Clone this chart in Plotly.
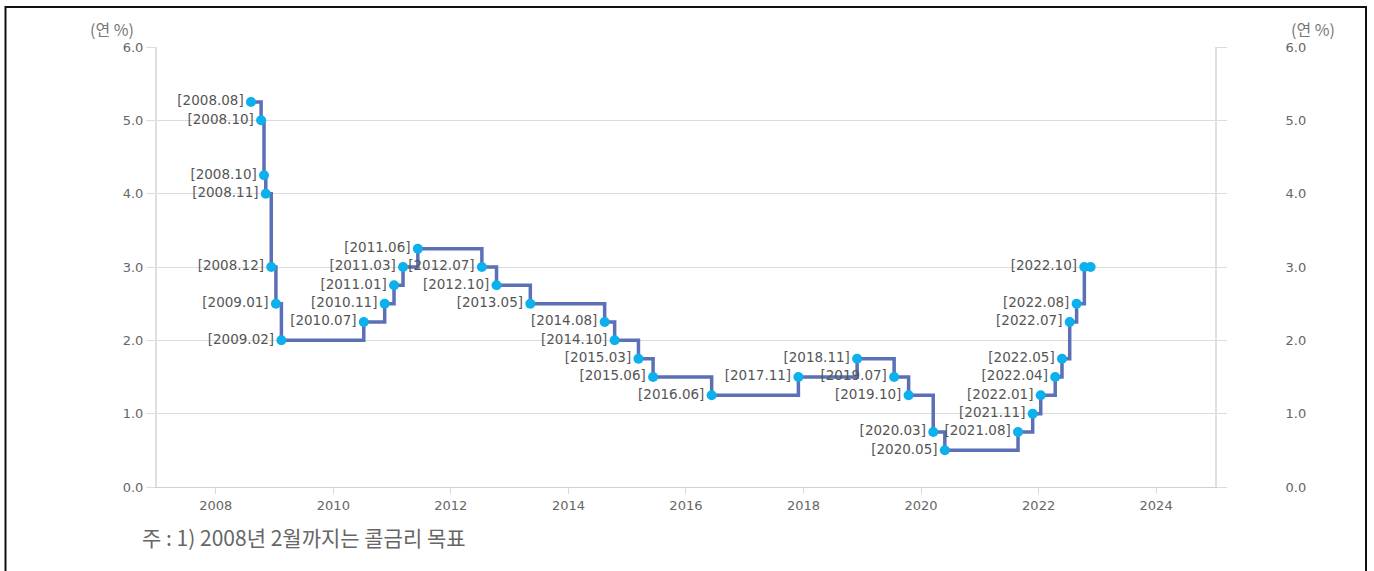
import plotly.graph_objects as go

dates = ["2008-08-07", "2008-10-09", "2008-10-27", "2008-11-07", "2008-12-11",
         "2009-01-09", "2009-02-12", "2010-07-09", "2010-11-16", "2011-01-13",
         "2011-03-10", "2011-06-10", "2012-07-12", "2012-10-11", "2013-05-09",
         "2014-08-14", "2014-10-15", "2015-03-12", "2015-06-11", "2016-06-09",
         "2017-11-30", "2018-11-30", "2019-07-18", "2019-10-16", "2020-03-17",
         "2020-05-28", "2021-08-26", "2021-11-25", "2022-01-14", "2022-04-14",
         "2022-05-26", "2022-07-13", "2022-08-25", "2022-10-12", "2022-11-20"]
rates = [5.25, 5.00, 4.25, 4.00, 3.00,
         2.50, 2.00, 2.25, 2.50, 2.75,
         3.00, 3.25, 3.00, 2.75, 2.50,
         2.25, 2.00, 1.75, 1.50, 1.25,
         1.50, 1.75, 1.50, 1.25, 0.75,
         0.50, 0.75, 1.00, 1.25, 1.50,
         1.75, 2.25, 2.50, 3.00, 3.00]
labels = ["[2008.08]", "[2008.10]", "[2008.10]", "[2008.11]", "[2008.12]",
          "[2009.01]", "[2009.02]", "[2010.07]", "[2010.11]", "[2011.01]",
          "[2011.03]", "[2011.06]", "[2012.07]", "[2012.10]", "[2013.05]",
          "[2014.08]", "[2014.10]", "[2015.03]", "[2015.06]", "[2016.06]",
          "[2017.11]", "[2018.11]", "[2019.07]", "[2019.10]", "[2020.03]",
          "[2020.05]", "[2021.08]", "[2021.11]", "[2022.01]", "[2022.04]",
          "[2022.05]", "[2022.07]", "[2022.08]", "[2022.10]", ""]
y_ticks = [0, 1, 2, 3, 4, 5, 6]
unit_label = "(연 %)"
footnote = "주 : 1) 2008년 2월까지는 콜금리 목표"

W, H = 1374, 571
L, R, T, B = 157, 1215, 47, 487

fig = go.Figure()
fig.add_trace(go.Scatter(
    x=dates, y=rates, mode="lines+markers+text", line_shape="hv",
    line=dict(color="#5b70b6", width=3.5),
    marker=dict(color="#0cb0ec", size=10),
    text=labels, textposition="middle left",
    textfont=dict(family="DejaVu Sans", size=13.5, color="#555555"),
    cliponaxis=False, hoverinfo="skip", showlegend=False,
))
fig.add_trace(go.Scatter(x=[dates[0]], y=[rates[0]], yaxis="y2", mode="markers",
                         marker=dict(opacity=0), showlegend=False, hoverinfo="skip"))

axis_font = dict(family="DejaVu Sans", size=13, color="#666666")
fig.update_layout(
    width=W, height=H,
    margin=dict(l=L, r=W - R, t=T, b=H - B),
    paper_bgcolor="white", plot_bgcolor="white",
    xaxis=dict(type="date", range=["2007-01-01", "2025-01-01"],
               tick0="2008-01-01", dtick="M24", tickformat="%Y",
               showgrid=False, showline=True, linecolor="#d0d0d0", linewidth=1,
               ticks="outside", ticklen=6, tickcolor="#d8d8d8",
               tickfont=axis_font, zeroline=False, mirror=False),
    yaxis=dict(range=[0, 6], tickvals=y_ticks, tickformat=".1f",
               showgrid=True, gridcolor="#dcdcdc", gridwidth=1,
               showline=True, linecolor="#e0e0e0", linewidth=2,
               ticks="outside", ticklen=9, tickcolor="#dcdcdc",
               tickfont=axis_font, zeroline=False),
    yaxis2=dict(range=[0, 6], tickvals=y_ticks, tickformat=".1f",
                overlaying="y", side="right", showgrid=False,
                showline=True, linecolor="#e0e0e0", linewidth=2,
                ticks="outside", ticklen=10, tickcolor="#dcdcdc",
                ticklabelstandoff=56,
                tickfont=axis_font, zeroline=False),
)

pw, ph = R - L, B - T
def px(x):
    return (x - L) / pw
def py(y):
    return (B - y) / ph

fig.add_annotation(x=px(112), y=py(29), xref="paper", yref="paper", text=unit_label,
                   showarrow=False, xanchor="center", yanchor="middle",
                   font=dict(family="Noto Sans CJK KR", size=16, color="#777777"))
fig.add_annotation(x=px(1313), y=py(29), xref="paper", yref="paper", text=unit_label,
                   showarrow=False, xanchor="center", yanchor="middle",
                   font=dict(family="Noto Sans CJK KR", size=16, color="#777777"))
fig.add_annotation(x=px(140), y=py(537), xref="paper", yref="paper", text=footnote,
                   showarrow=False, xanchor="left", yanchor="middle",
                   font=dict(family="Noto Sans CJK KR", size=21, color="#666666"))

fig.add_shape(type="rect", xref="paper", yref="paper",
              x0=px(5.5), x1=px(1366), y0=py(600), y1=py(7),
              line=dict(color="#111111", width=2), fillcolor="rgba(0,0,0,0)", layer="above")

fig.write_html("out.html", config={"displayModeBar": False},
               post_script="document.body.style.margin='0';document.body.style.overflow='hidden';")
